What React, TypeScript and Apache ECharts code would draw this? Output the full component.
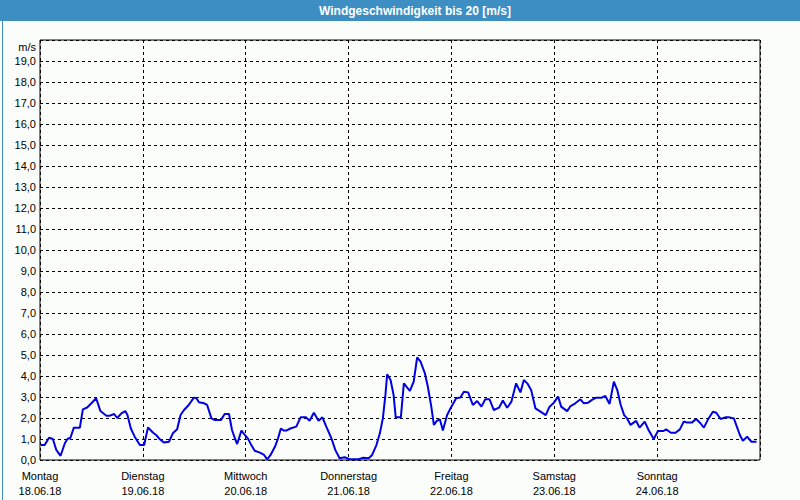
import React, { useEffect, useRef } from "react";
import * as echarts from "echarts";

const TITLE = "Windgeschwindigkeit bis 20 [m/s]";
const UNIT = "m/s";
const dayNames = ["Montag", "Dienstag", "Mittwoch", "Donnerstag", "Freitag", "Samstag", "Sonntag"];
const dayDates = ["18.06.18", "19.06.18", "20.06.18", "21.06.18", "22.06.18", "23.06.18", "24.06.18"];

// hours since Monday 00:00
const hours = [
  0.2, 1.1, 2.1, 3.0, 3.8, 4.8, 5.8, 6.4, 7.1, 7.9, 9.3, 10.0, 11.0, 12.0, 13.1, 14.1, 15.5, 16.3, 17.3, 18.0,
  19.0, 19.9, 20.4, 21.2, 22.1, 23.3, 24.3, 25.2, 26.4, 27.1, 27.9, 28.9, 30.1, 31.0, 32.0, 32.8, 33.6, 34.7,
  35.9, 36.5, 37.1, 38.3, 39.0, 40.0, 40.8, 42.2, 43.1, 44.1, 44.8, 45.4, 46.0, 47.0, 47.8, 48.5, 49.3, 50.1,
  51.3, 52.3, 53.0, 53.8, 54.9, 55.5, 56.2, 56.9, 57.5, 58.4, 59.8, 60.8, 62.1, 62.9, 63.9, 65.0, 65.9, 66.8,
  68.0, 68.9, 69.9, 71.1, 72.3, 74.2, 75.4, 76.7, 77.5, 78.5, 79.3, 80.0, 80.6, 81.0, 81.8, 82.5, 83.0, 84.2,
  84.9, 85.5, 86.3, 87.2, 88.0, 88.8, 89.8, 90.5, 91.3, 91.9, 92.6, 93.3, 94.0, 95.0, 96.0, 97.1, 98.1, 98.9,
  99.9, 101.0, 102.0, 103.0, 103.9, 104.9, 105.9, 107.1, 108.0, 109.0, 110.0, 111.1, 112.1, 112.9, 113.7,
  114.6, 115.6, 116.6, 118.0, 118.9, 119.9, 120.9, 121.6, 123.0, 123.8, 124.9, 126.1, 126.9, 127.9, 128.8,
  129.8, 131.1, 131.9, 132.9, 133.9, 134.7, 135.5, 136.3, 137.0, 137.8, 138.6, 139.1, 139.9, 141.1, 142.0,
  143.2, 144.2, 145.5, 146.1, 147.2, 148.3, 149.3, 150.2, 151.0, 152.1, 153.1, 154.1, 154.9, 156.0, 157.0,
  157.8, 158.8, 159.9, 160.9, 161.9, 163.3, 164.0, 165.0, 166.0, 167.2,
];

// wind speed m/s
const speeds = [
  0.71, 0.71, 1.06, 1.0, 0.48, 0.2, 0.8, 1.0, 1.06, 1.54, 1.54, 2.41, 2.5, 2.7, 2.94, 2.33, 2.11, 2.11, 2.19, 2.0,
  2.22, 2.33, 2.14, 1.5, 1.11, 0.71, 0.71, 1.55, 1.3, 1.19, 1.0, 0.83, 0.87, 1.27, 1.46, 2.14, 2.38, 2.62,
  2.97, 2.94, 2.75, 2.7, 2.62, 1.98, 1.9, 1.9, 2.19, 2.19, 1.43, 1.08, 0.76, 1.4, 1.19, 1.03, 0.71, 0.44,
  0.35, 0.24, 0.03, 0.24, 0.67, 1.0, 1.5, 1.4, 1.4, 1.5, 1.59, 2.03, 2.03, 1.87, 2.25, 1.87, 2.03, 1.59,
  1.03, 0.48, 0.08, 0.13, 0.03, 0.03, 0.11, 0.08, 0.24, 0.71, 1.27, 1.98, 3.1, 4.08, 3.81, 3.1, 2.03, 2.03,
  3.65, 3.49, 3.29, 3.73, 4.89, 4.68, 4.13, 3.49, 2.54, 1.67, 1.86, 1.94, 1.4, 2.14, 2.54, 2.94, 2.98, 3.25,
  3.22, 2.62, 2.81, 2.54, 2.89, 2.89, 2.38, 2.49, 2.83, 2.49, 2.78, 3.65, 3.22, 3.81, 3.65,
  3.33, 2.46, 2.33, 2.14, 2.54, 2.73, 3.02, 2.54, 2.33, 2.57, 2.7, 2.89, 2.7, 2.73, 2.86,
  2.97, 2.97, 3.05, 2.67, 3.73, 3.33, 2.62, 2.14, 1.98, 1.67, 1.79, 1.86, 1.54, 1.83, 1.43,
  1.0, 1.38, 1.38, 1.46, 1.3, 1.3, 1.46, 1.83, 1.78, 1.78, 1.95, 1.75, 1.54, 1.98, 2.3,
  2.25, 1.95, 2.03, 2.03, 1.98, 1.19, 0.92, 1.11, 0.87, 0.87,
];

const FONT = "Liberation Sans";
const BLUE = "#3d8fc3";

export default function App() {
  const ref = useRef<HTMLDivElement>(null);
  useEffect(() => {
    document.body.style.margin = "0";
    const chart = echarts.init(ref.current!, null, { renderer: "svg" });
    const data = hours.map((h, i) => [h, speeds[i]]);
    chart.setOption({
      animation: false,
      backgroundColor: "#fbfdfb",
      textStyle: { fontFamily: FONT },
      grid: {
        left: 40,
        right: 40,
        top: 40,
        bottom: 40,
        show: true,
        borderColor: "#000",
        borderWidth: 1,
        backgroundColor: "transparent",
      },
      graphic: [
        { type: "rect", left: 0, top: 0, shape: { width: 800, height: 21 }, style: { fill: BLUE }, silent: true },
        {
          type: "rect",
          left: 0,
          top: 0,
          shape: { x: 0.5, y: 0.5, width: 799, height: 499 },
          style: { fill: "none", stroke: BLUE, lineWidth: 1 },
          silent: true,
        },
        {
          type: "text",
          x: 415,
          y: 10.5,
          style: {
            text: TITLE,
            fill: "#ffffff",
            font: `bold 12px "${FONT}"`,
            align: "center",
            verticalAlign: "middle",
          },
          silent: true,
        },
        {
          type: "text",
          x: 36,
          y: 47,
          style: {
            text: UNIT,
            fill: "#000",
            font: `11px "${FONT}"`,
            align: "right",
            verticalAlign: "middle",
          },
          silent: true,
        },
      ],
      xAxis: {
        type: "value",
        min: 0,
        max: 168,
        interval: 24,
        axisLine: { show: false },
        axisTick: { show: false },
        splitLine: { show: true, lineStyle: { color: "#000", type: [3, 3], width: 1 } },
        axisLabel: {
          margin: 8,
          color: "#000",
          fontSize: 11,
          lineHeight: 15,
          fontFamily: FONT,
          formatter: (v: number) => {
            const i = Math.round(v / 24);
            if (i < 0 || i >= dayNames.length) return "";
            return dayNames[i] + "\n" + dayDates[i];
          },
        },
      },
      yAxis: {
        type: "value",
        min: 0,
        max: 20,
        interval: 1,
        axisLine: { show: false },
        axisTick: { show: false },
        splitLine: { show: true, lineStyle: { color: "#000", type: [3, 3], width: 1 } },
        axisLabel: {
          margin: 4,
          color: "#000",
          fontSize: 11,
          fontFamily: FONT,
          formatter: (v: number) => (v >= 20 ? "" : v.toFixed(1).replace(".", ",")),
        },
      },
      series: [
        {
          type: "line",
          data,
          showSymbol: false,
          lineStyle: { color: "#0000e0", width: 2 },
          itemStyle: { color: "#0000e0" },
        },
      ],
    });
    return () => chart.dispose();
  }, []);
  return <div ref={ref} style={{ width: 800, height: 500 }} />;
}
